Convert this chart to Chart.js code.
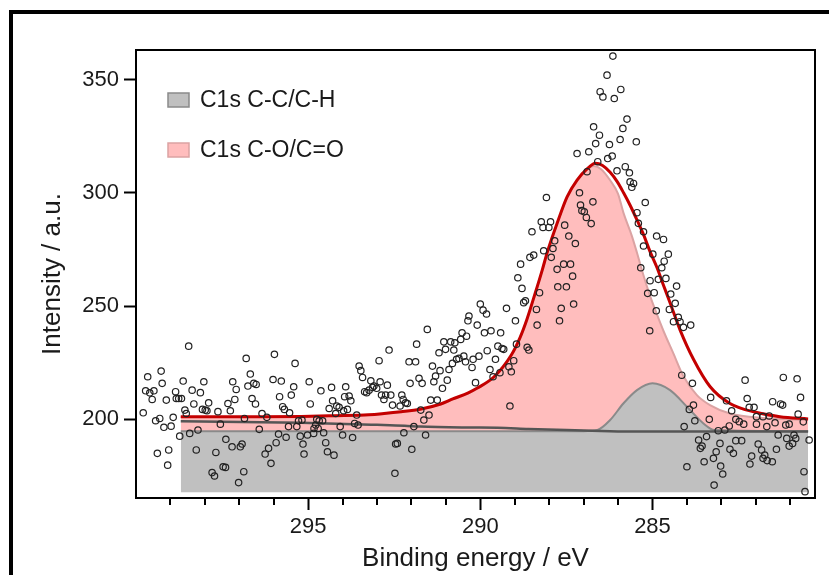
<!DOCTYPE html>
<html>
<head>
<meta charset="utf-8">
<script src="https://cdn.jsdelivr.net/npm/chart.js@4.4.1/dist/chart.umd.min.js"></script>
<style>
html, body { margin: 0; padding: 0; background: #fff; overflow: hidden; }
#wrap { position: relative; width: 829px; height: 575px; }
#chart { position: absolute; left: 0; top: 0; }
#frame { position: absolute; left: 9px; top: 10px; width: 900px; height: 700px; border: 4px solid #000; pointer-events: none; }
</style>
</head>
<body>
<div id="wrap">
  <canvas id="chart" width="829" height="575"></canvas>
  <div id="frame"></div>
</div>
<script>

// measured spectrum (open circles)
var bindingEnergy = [
  299.79,299.72,299.66,299.60,299.53,299.48,299.43,299.38,299.31,299.27,
  299.24,299.19,299.12,299.08,299.05,298.98,298.92,298.85,298.83,298.76,
  298.73,298.68,298.63,298.58,298.54,298.47,298.44,298.37,298.32,298.25,
  298.20,298.13,298.07,298.03,297.99,297.94,297.89,297.79,297.72,297.68,
  297.62,297.55,297.47,297.40,297.39,297.33,297.26,297.21,297.19,297.13,
  297.09,297.02,296.97,296.92,296.87,296.85,296.80,296.75,296.68,296.63,
  296.58,296.53,296.51,296.42,296.34,296.25,296.20,296.15,296.08,296.02,
  295.98,295.93,295.86,295.83,295.78,295.74,295.69,295.64,295.57,295.54,
  295.49,295.42,295.38,295.33,295.28,295.23,295.18,295.15,295.12,
  295.02,294.97,294.94,294.84,294.83,294.78,294.75,294.71,294.68,294.63,
  294.58,294.55,294.49,294.44,294.39,294.32,294.29,294.25,294.20,294.17,
  294.10,294.07,294.00,293.97,293.94,293.91,293.86,293.81,293.76,293.71,
  293.65,293.59,293.55,293.52,293.47,293.42,293.36,293.30,293.23,293.18,
  293.13,293.09,293.01,292.94,292.91,292.87,292.80,292.75,292.70,292.65,
  292.60,292.55,292.48,292.46,292.41,292.33,292.28,292.24,292.22,292.17,
  292.12,292.07,292.04,291.99,291.93,291.88,291.85,291.78,291.73,291.69,
  291.64,291.59,291.54,291.49,291.44,291.39,291.35,291.30,291.25,291.20,
  291.17,291.10,291.06,291.01,290.96,290.91,290.86,290.81,290.77,290.74,
  290.69,290.62,290.57,290.53,290.48,290.43,290.40,290.36,290.33,
  290.09,290.00,289.92,289.88,289.82,289.69,289.41,289.24,288.98,288.91,
  288.83,288.79,288.74,288.69,288.56,288.50,288.45,288.37,288.35,288.28,
  288.23,288.18,288.16,288.08,288.01,287.96,287.94,287.89,287.84,287.77,
  287.75,287.70,287.65,287.58,287.55,287.50,287.43,287.38,287.32,287.29,
  287.24,287.12,287.09,287.05,286.98,286.92,286.78,286.73,
  290.24,290.21,290.14,290.04,289.80,289.72,289.63,289.56,289.49,289.43,
  289.37,289.32,289.17,289.14,289.10,289.03,288.95,288.64,288.59,
  286.15,286.32,286.52,286.44,286.11,285.92,285.74,286.71,286.54,285.86,
  286.65,286.25,285.94,285.47,287.19,286.85,286.30,286.17,286.59,286.90,
  285.79,286.03,285.67,285.65,285.55,285.60,285.21,285.45,285.41,285.26,
  284.88,284.68,285.26,284.99,284.54,284.66,284.73,285.34,285.07,284.83,
  284.61,284.30,
  284.95,285.14,284.47,284.34,284.51,284.89,284.25,284.39,284.20,284.10,
  283.89,285.08,284.15,283.84,282.31,281.20,280.80,280.70,282.25,281.51,
  281.28,281.22,283.31,282.85,282.19,282.05,283.93,283.81,282.70,283.35,
  283.77,282.58,282.48,282.35,281.98,281.79,281.61,281.98,281.68,281.44,
  281.13,281.03,280.77,280.62,284.08,282.77,283.09,282.90,283.04,283.43,
  281.35,281.10,280.89,280.84,280.45,283.66,283.56,283.61,282.58,282.41,
  281.93,281.40,281.03,280.93,283.15,282.75,282.65,281.83,281.74,283.23,
  283.50,282.12,281.79,281.67,281.52,284.00,283.02,282.17,282.96,283.21,
  280.60,280.57
];
var intensity = [
  202.9,212.6,218.8,211.7,208.8,212.6,199.4,185.0,200.4,221.3,
  215.9,196.5,208.5,179.8,186.5,197.0,200.9,212.2,209.2,209.2,
  192.6,209.2,216.9,204.1,202.6,232.3,193.8,212.9,206.8,186.5,
  195.3,211.8,204.4,216.6,204.1,203.8,207.3,176.5,175.0,185.4,
  203.4,197.9,179.1,178.8,191.2,207.0,203.8,187.9,216.6,208.8,
  213.2,172.1,187.9,189.1,176.9,200.4,226.9,214.7,220.0,209.2,
  215.9,206.8,215.4,195.6,202.6,184.7,200.9,187.2,180.6,217.6,
  228.7,189.7,193.5,210.0,216.9,205.6,204.4,192.1,196.8,202.9,
  210.7,214.4,224.7,196.8,199.4,192.6,199.7,189.1,184.7,
  193.1,216.6,206.8,193.8,196.0,197.5,200.0,196.0,199.4,212.6,
  199.4,194.1,189.7,185.7,204.8,214.1,208.2,184.2,202.6,205.9,
  205.3,196.8,193.1,203.8,210.0,214.4,204.4,210.3,208.2,192.0,
  198.2,201.9,197.5,223.5,221.5,218.5,212.2,211.8,212.9,217.0,
  214.1,214.7,213.7,225.9,216.6,210.7,208.8,210.7,215.1,230.6,
  210.7,206.3,176.2,189.1,189.4,205.9,210.7,208.8,194.1,207.3,
  207.0,225.4,215.9,186.8,196.8,225.4,233.2,218.1,204.1,215.9,
  199.7,193.1,239.7,201.9,208.5,223.5,216.6,219.1,208.5,229.4,
  221.5,213.7,234.2,230.9,217.3,222.0,234.2,224.7,230.6,233.8,
  226.5,226.9,235.3,238.2,227.9,225.4,236.7,243.5,245.6,
  241.6,250.9,248.2,238.2,246.5,239.1,238.2,249.0,243.5,262.5,
  268.5,257.8,251.5,252.3,271.5,282.8,272.5,248.5,241.6,255.9,
  287.2,284.7,274.4,297.9,284.7,287.2,271.5,275.4,278.8,266.2,
  258.5,243.5,249.0,268.5,285.7,258.5,280.9,268.5,263.2,250.9,
  277.6,300.0,294.6,292.1,291.6,289.1,286.4,296.0,
  222.9,226.5,216.2,227.9,230.3,222.0,218.8,226.5,232.3,220.6,
  231.3,230.9,223.2,205.9,221.0,225.9,233.2,231.8,230.6,
  360.3,351.9,344.6,342.3,341.6,345.6,332.5,329.1,325.4,328.4,
  321.7,321.3,323.5,322.5,317.3,318.1,315.1,316.2,313.7,309.3,
  311.5,309.7,308.8,304.8,304.1,302.4,295.7,291.2,286.5,282.8,
  280.9,279.4,276.5,272.9,272.9,269.8,266.9,266.9,261.2,261.8,
  262.2,258.8,
  255.9,255.6,255.3,251.2,248.5,247.9,245.0,243.1,243.1,240.6,
  241.6,239.1,219.5,215.9,217.3,218.5,217.9,209.7,209.2,207.8,
  206.8,206.3,209.7,208.2,205.3,205.3,204.4,206.3,203.8,200.0,
  199.4,200.0,199.0,197.9,201.2,201.2,201.5,197.9,196.8,198.5,
  197.5,197.9,202.3,198.9,196.8,197.1,195.0,195.3,189.4,192.4,
  193.1,191.6,193.1,191.6,190.9,190.9,188.2,187.2,190.6,190.6,
  189.1,186.8,188.2,189.4,185.7,186.8,185.0,186.5,184.2,182.8,
  181.3,183.8,182.8,181.8,181.3,179.1,179.4,180.3,175.9,171.0,
  176.9,168.1
];

// fit envelope (red)
var envEnergy = [298.7, 296.5, 295.2, 294.25, 293.25, 292.3, 291.75, 291.15, 290.8, 290.35, 290.1, 289.6, 289.1, 288.85, 288.65, 288.4, 288.2, 288.05, 287.77, 287.48, 287.19, 286.9, 286.66, 286.45, 286.23, 286.03, 285.84, 285.65, 285.45, 285.26, 285.07, 284.87, 284.7, 284.49, 284.2, 283.81, 283.33, 282.75, 281.97, 281.3, 280.48];
var envelope = [201.2, 201.2, 201.3, 201.6, 202.0, 203.4, 204.5, 206.8, 209.0, 211.7, 213.7, 218.8, 228.4, 236, 244, 256, 266, 274, 286.5, 298.2, 305.6, 310.5, 313, 312, 309, 305, 300, 294.5, 288, 281.5, 274, 267, 260, 251.5, 239.5, 226.5, 214.5, 207, 203, 201.2, 200.2];

// C1s C-O/C=O component (pink)
var coEnergy = [298.7, 296.5, 295.2, 294.25, 293.25, 292.3, 291.75, 291.15, 290.8, 290.35, 290.1, 289.6, 289.1, 288.85, 288.65, 288.4, 288.2, 288.05, 287.77, 287.48, 287.19, 286.9, 286.7, 286.5, 286.23, 286.0, 285.84, 285.6, 285.45, 285.28, 285.07, 284.9, 284.68, 284.39, 284.1, 283.71, 283.33, 282.75, 281.8, 280.48];
var coComponent = [201.0, 201.0, 201.1, 201.4, 201.8, 203.2, 204.3, 206.6, 208.8, 211.5, 213.5, 218.6, 228.2, 235.8, 243.8, 255.8, 265.8, 273.8, 286.3, 298, 305.4, 310.3, 311.8, 310.5, 305.5, 299.5, 291, 281, 273.5, 264.5, 254.5, 247.5, 239, 229, 219, 210.7, 206.3, 202.6, 200.6, 199.8];

// C1s C-C/C-H component (grey)
var ccEnergy = [298.7, 287.0, 286.6, 286.23, 285.84, 285.45, 285.0, 284.49, 284.0, 283.52, 283.2, 280.48];
var ccComponent = [194.8, 194.8, 195.3, 199.7, 207.1, 212.9, 215.9, 212.9, 205.6, 198.2, 195.3, 194.8];

// background line
var bgEnergy = [298.7, 295.2, 293.0, 292.2, 291.75, 290.4, 289.5, 288.6, 287.5, 286.5, 285.5, 280.48];
var background = [199.2, 198.5, 197.6, 197.2, 196.8, 196.4, 196.3, 195.8, 195.3, 194.9, 194.6, 194.6];

var xMajorTicks = [285, 290, 295];
var xMinorTicks = [281, 282, 283, 284, 286, 287, 288, 289, 291, 292, 293, 294, 296, 297, 298, 299];
var yTicks = [200, 250, 300, 350];

function pairs(xs, ys) {
  return xs.map(function (x, i) { return {x: x, y: ys[i]}; });
}

var extras = {
  id: 'extras',
  afterDraw: function (chart) {
    var ctx = chart.ctx;
    var a = chart.chartArea;
    var xs = chart.scales.x;
    ctx.save();
    ctx.strokeStyle = '#000';
    ctx.lineWidth = 2;
    ctx.strokeRect(a.left, a.top, a.right - a.left, a.bottom - a.top);
    xMinorTicks.forEach(function (v) {
      var px = Math.round(xs.getPixelForValue(v));
      ctx.beginPath();
      ctx.moveTo(px, a.bottom);
      ctx.lineTo(px, a.bottom + 7);
      ctx.stroke();
    });

    // legend inside the plot
    [3, 4].forEach(function (idx, i) {
      var ds = chart.data.datasets[idx];
      var bx = a.left + 32, by = a.top + 43 + i * 50;
      ctx.fillStyle = ds.backgroundColor;
      ctx.fillRect(bx, by, 21, 14);
      ctx.strokeStyle = ds.borderColor;
      ctx.lineWidth = 1.5;
      ctx.strokeRect(bx, by, 21, 14);
      ctx.fillStyle = '#1a1a1a';
      ctx.font = '23px "Liberation Sans", Arial, sans-serif';
      ctx.textBaseline = 'middle';
      ctx.textAlign = 'left';
      ctx.fillText(ds.label, bx + 32, by + 8);
    });
    ctx.restore();
  }
};

var font = '"Liberation Sans", Arial, sans-serif';

var chart = new Chart('chart', {
  type: 'scatter',
  data: {
    datasets: [
      {
        label: 'Measured',
        data: pairs(bindingEnergy, intensity),
        pointRadius: 3.2,
        pointBorderWidth: 1.2,
        pointBorderColor: '#222',
        pointBackgroundColor: 'rgba(0,0,0,0)',
        order: 0
      },
      {
        label: 'Envelope',
        data: pairs(envEnergy, envelope),
        showLine: true,
        pointRadius: 0,
        borderColor: '#c40000',
        borderWidth: 3,
        cubicInterpolationMode: 'monotone',
        order: 1
      },
      {
        label: 'Background',
        data: pairs(bgEnergy, background),
        showLine: true,
        pointRadius: 0,
        borderColor: '#555555',
        borderWidth: 2.5,
        cubicInterpolationMode: 'monotone',
        order: 2
      },
      {
        label: 'C1s C-C/C-H',
        data: pairs(ccEnergy, ccComponent),
        showLine: true,
        pointRadius: 0,
        borderColor: '#8a8a8a',
        borderWidth: 2,
        backgroundColor: '#c0c0c0',
        fill: {value: 167.8},
        cubicInterpolationMode: 'monotone',
        order: 3
      },
      {
        label: 'C1s C-O/C=O',
        data: pairs(coEnergy, coComponent),
        showLine: true,
        pointRadius: 0,
        borderColor: '#dba3a3',
        borderWidth: 2,
        backgroundColor: '#ffbdbd',
        fill: {value: 194.8},
        cubicInterpolationMode: 'monotone',
        order: 4
      }
    ]
  },
  options: {
    responsive: false,
    animation: false,
    layout: {padding: {top: 50, right: 14, bottom: 0, left: 0}},
    plugins: {
      legend: {display: false},
      tooltip: {enabled: false}
    },
    scales: {
      x: {
        type: 'linear',
        reverse: true,
        min: 280.28,
        max: 300,
        afterBuildTicks: function (s) { s.ticks = xMajorTicks.map(function (v) { return {value: v}; }); },
        afterFit: function (s) { s.height = 77; },
        border: {display: false},
        grid: {drawOnChartArea: false, drawTicks: true, tickLength: 12, tickWidth: 2, tickColor: '#000'},
        ticks: {color: '#1a1a1a', font: {family: font, size: 22}, padding: 4, maxRotation: 0, autoSkip: false},
        title: {display: true, text: 'Binding energy / eV', color: '#1a1a1a', font: {family: font, size: 26}, padding: {top: 0, bottom: 1}}
      },
      y: {
        min: 165.3,
        max: 363,
        afterBuildTicks: function (s) { s.ticks = yTicks.map(function (v) { return {value: v}; }); },
        afterFit: function (s) { s.width = 136; },
        border: {display: false},
        grid: {drawOnChartArea: false, drawTicks: true, tickLength: 12, tickWidth: 2, tickColor: '#000'},
        ticks: {color: '#1a1a1a', font: {family: font, size: 22}, padding: 5},
        title: {display: true, text: 'Intensity / a.u.', color: '#1a1a1a', font: {family: font, size: 26}, padding: {top: 37, bottom: 0}}
      }
    }
  },
  plugins: [extras]
});
</script>
</body>
</html>
